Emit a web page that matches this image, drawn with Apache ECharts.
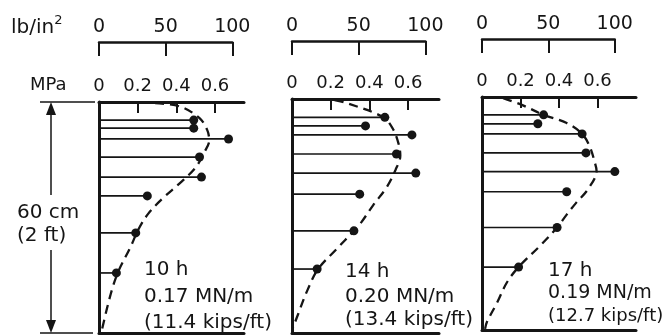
<!DOCTYPE html>
<html>
<head>
<meta charset="utf-8">
<script src="https://cdn.jsdelivr.net/npm/echarts@6/dist/echarts.min.js"></script>
<style>
  html, body { margin: 0; padding: 0; background: #fff; }
  #chart { width: 670px; height: 336px; }
</style>
</head>
<body>
<div id="chart"></div>
<script>
// Gauge depths below the top of the wall (cm) and measured lateral pressure (MPa)
const depths10 = [4.7, 6.8, 9.6, 14.3, 19.5, 24.4, 34.0, 44.4];
const press10  = [0.49, 0.49, 0.67, 0.52, 0.53, 0.25, 0.19, 0.09];
const depths14 = [4.7, 6.9, 9.2, 14.1, 19.0, 24.4, 33.8, 43.6];
const press14  = [0.48, 0.38, 0.62, 0.54, 0.64, 0.35, 0.32, 0.13];
const depths17 = [4.6, 6.9, 9.5, 14.4, 19.2, 24.4, 33.6, 43.8];
const press17  = [0.32, 0.29, 0.52, 0.54, 0.69, 0.44, 0.39, 0.19];

// Fitted pressure envelopes (dashed): depth (cm) and pressure (MPa)
const fitDepth10 = [0.3, 1.2, 4.2, 7.3, 10.0, 13.0, 17.0, 21.0, 25.0, 29.0, 33.0, 38.0, 44.0, 50.0, 59.2];
const fitPress10 = [0.29, 0.42, 0.52, 0.56, 0.57, 0.545, 0.50, 0.42, 0.33, 0.255, 0.205, 0.16, 0.10, 0.06, 0.015];
const fitDepth14 = [0.3, 1.0, 4.6, 7.5, 11.3, 14.5, 18.2, 22.6, 27.2, 31.5, 33.8, 38.5, 43.6, 49.0, 55.9, 58.7];
const fitPress14 = [0.22, 0.28, 0.47, 0.52, 0.55, 0.56, 0.535, 0.49, 0.42, 0.36, 0.32, 0.23, 0.135, 0.08, 0.026, 0.005];
const fitDepth17 = [0.3, 2.1, 4.6, 6.7, 9.5, 12.8, 16.7, 19.0, 23.8, 27.2, 30.3, 33.6, 37.9, 43.8, 47.7, 52.8, 57.9, 59.7];
const fitPress17 = [0.11, 0.21, 0.32, 0.44, 0.52, 0.56, 0.585, 0.595, 0.55, 0.49, 0.44, 0.39, 0.31, 0.19, 0.13, 0.08, 0.026, 0.016];

// Axis ticks
const mpaLabels = [0, 0.2, 0.4, 0.6];
const mpaTicks  = [0.2, 0.4, 0.6];
const psiTicks  = [0, 50, 100];
const wallHeight = 60;        // cm
const psiPerMPa = 145.038;

// Panel captions: elapsed time, total force per metre
const captions = [
  ['10 h', '0.17 MN/m', '(11.4 kips/ft)'],
  ['14 h', '0.20 MN/m', '(13.4 kips/ft)'],
  ['17 h', '0.19 MN/m', '(12.7 kips/ft)']
];

const panels = [
  { depths: depths10, press: press10, fitD: fitDepth10, fitP: fitPress10 },
  { depths: depths14, press: press14, fitD: fitDepth14, fitP: fitPress14 },
  { depths: depths17, press: press17, fitD: fitDepth17, fitP: fitPress17 }
];

// Layout of each panel
const layout = [
  { left: 99,  top: 102, width: 145, height: 231, mpaMax: 0.75, psiTop: 42, capX: 144, capY: [270, 297, 323], capSize: [20, 20, 20] },
  { left: 292, top: 99,  width: 147, height: 234, mpaMax: 0.76, psiTop: 41, capX: 345, capY: [272, 297, 320], capSize: [20, 20, 20] },
  { left: 482, top: 97,  width: 154, height: 233, mpaMax: 0.80, psiTop: 39, capX: 548, capY: [271, 293, 316], capSize: [20, 19, 18] }
];

const INK = '#151515';
const FONT = '"DejaVu Sans", sans-serif';

const grid = [], xAxis = [], yAxis = [], series = [], graphic = [];

layout.forEach((L) => {
  grid.push({ left: L.left, top: L.top, width: L.width, height: L.height });
});
layout.forEach((L) => {
  const pxPerMPa = L.width / L.mpaMax;
  grid.push({ left: L.left, top: L.psiTop, width: 100 / psiPerMPa * pxPerMPa, height: 14 });
});

layout.forEach((L, i) => {
  // MPa scale along the top of the panel
  xAxis.push({
    type: 'value', gridIndex: i, position: 'top', min: 0, max: L.mpaMax,
    axisLine: { show: true, onZero: false, lineStyle: { color: INK, width: 3 } },
    axisTick: { show: true, inside: true, length: 11, customValues: mpaTicks, lineStyle: { color: INK, width: 2 } },
    axisLabel: { show: true, customValues: mpaLabels, margin: 7, color: INK, fontSize: 18, fontFamily: FONT },
    splitLine: { show: false }
  });
  // base line of the panel
  xAxis.push({
    type: 'value', gridIndex: i, position: 'bottom', min: 0, max: L.mpaMax,
    axisLine: { show: true, onZero: false, lineStyle: { color: INK, width: 3 } },
    axisTick: { show: false }, axisLabel: { show: false }, splitLine: { show: false }
  });
  // lb/in² bracket scale
  xAxis.push({
    type: 'value', gridIndex: 3 + i, position: 'top', min: 0, max: 100,
    axisLine: { show: true, onZero: false, lineStyle: { color: INK, width: 2.5 } },
    axisTick: { show: true, inside: true, length: 14, customValues: psiTicks, lineStyle: { color: INK, width: 2 } },
    axisLabel: { show: true, customValues: psiTicks, margin: 5, color: INK, fontSize: 19, fontFamily: FONT },
    splitLine: { show: false }
  });
  // depth (wall face)
  yAxis.push({
    type: 'value', gridIndex: i, min: 0, max: wallHeight, inverse: true,
    axisLine: { show: true, onZero: false, lineStyle: { color: INK, width: 3 } },
    axisTick: { show: false }, axisLabel: { show: false }, splitLine: { show: false }
  });
  yAxis.push({ type: 'value', gridIndex: 3 + i, show: false, min: 0, max: 1 });
});

panels.forEach((P, i) => {
  const xi = 3 * i, yi = 2 * i;
  const pts = P.depths.map((d, k) => [P.press[k], d]);
  // horizontal stems from the wall face to each reading
  series.push({
    type: 'custom', xAxisIndex: xi, yAxisIndex: yi, data: pts, silent: true,
    renderItem: (params, api) => {
      const a = api.coord([0, api.value(1)]);
      const b = api.coord([api.value(0), api.value(1)]);
      return { type: 'line', shape: { x1: a[0], y1: a[1], x2: b[0], y2: b[1] },
               style: { stroke: INK, lineWidth: 1.7 } };
    }
  });
  // measured readings
  series.push({
    type: 'scatter', xAxisIndex: xi, yAxisIndex: yi, data: pts,
    symbol: 'circle', symbolSize: 9, itemStyle: { color: INK, opacity: 1 }, silent: true
  });
  // fitted envelope
  series.push({
    type: 'line', xAxisIndex: xi, yAxisIndex: yi,
    data: P.fitD.map((d, k) => [P.fitP[k], d]),
    smooth: 0.35, showSymbol: false, silent: true,
    lineStyle: { color: INK, width: 2.3, type: [9, 6] }
  });
});

// Captions
layout.forEach((L, i) => {
  captions[i].forEach((t, k) => {
    graphic.push({
      type: 'text', x: L.capX, y: L.capY[k],
      style: { text: t, fill: INK, font: L.capSize[k] + 'px ' + FONT, verticalAlign: 'middle', textVerticalAlign: 'middle' }
    });
  });
});

// Unit labels for the two scales
graphic.push({
  type: 'text', x: 11, y: 14,
  style: {
    text: '{a|lb/in}{b|2}', fill: INK,
    rich: { a: { fontSize: 20, fontFamily: FONT, color: INK, lineHeight: 24, verticalAlign: 'bottom' },
            b: { fontSize: 13, fontFamily: FONT, color: INK, lineHeight: 24, verticalAlign: 'top' } }
  }
});
graphic.push({
  type: 'text', x: 30, y: 85,
  style: { text: 'MPa', fill: INK, font: '18px ' + FONT, verticalAlign: 'middle', textVerticalAlign: 'middle' }
});

// Wall height dimension
const g0 = layout[0];
const yT = g0.top, yB = g0.top + g0.height, xd = 51;
graphic.push(
  { type: 'line', shape: { x1: 40, y1: yT, x2: 95, y2: yT }, style: { stroke: INK, lineWidth: 1.6 } },
  { type: 'line', shape: { x1: 40, y1: yB, x2: 93, y2: yB }, style: { stroke: INK, lineWidth: 1.6 } },
  { type: 'line', shape: { x1: xd, y1: yT + 10, x2: xd, y2: 195 }, style: { stroke: INK, lineWidth: 1.5 } },
  { type: 'line', shape: { x1: xd, y1: 250, x2: xd, y2: yB - 10 }, style: { stroke: INK, lineWidth: 1.5 } },
  { type: 'polygon', shape: { points: [[xd, yT], [xd - 5, yT + 13], [xd + 5, yT + 13]] }, style: { fill: INK } },
  { type: 'polygon', shape: { points: [[xd, yB], [xd - 5, yB - 13], [xd + 5, yB - 13]] }, style: { fill: INK } },
  { type: 'text', x: 17, y: 213, style: { text: '60 cm', fill: INK, font: '20px ' + FONT, verticalAlign: 'middle', textVerticalAlign: 'middle' } },
  { type: 'text', x: 17, y: 236, style: { text: '(2 ft)', fill: INK, font: '20px ' + FONT, verticalAlign: 'middle', textVerticalAlign: 'middle' } }
);

const chart = echarts.init(document.getElementById('chart'), null, { renderer: 'canvas' });
chart.setOption({
  backgroundColor: '#fff',
  animation: false,
  grid, xAxis, yAxis, series, graphic
});
</script>
</body>
</html>
